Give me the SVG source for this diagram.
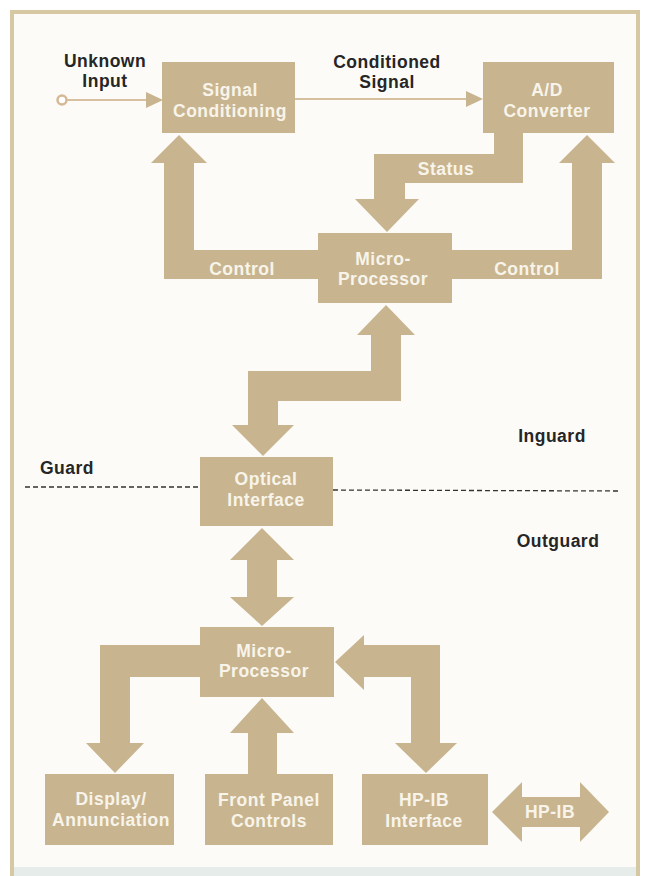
<svg xmlns="http://www.w3.org/2000/svg" width="648" height="876" viewBox="0 0 648 876">
<style>
.box{fill:#c8b58f}
.band{fill:#c8b58f}
.bt{font-family:"Liberation Sans",Arial,sans-serif;font-weight:bold;font-size:17.5px;fill:#f8f4ea;text-anchor:middle;letter-spacing:0.5px}
.lt{font-family:"Liberation Sans",Arial,sans-serif;font-weight:bold;font-size:17.5px;fill:#262626;text-anchor:middle;letter-spacing:0.5px}
.thin{stroke:#d6c0a0;stroke-width:2;fill:none}
.dash{stroke:#333333;stroke-width:1.3;stroke-dasharray:5 3;fill:none}
</style>
<rect x="0" y="0" width="648" height="876" fill="#ffffff"/>
<rect x="12" y="12" width="626" height="870" fill="#fcfbf7" stroke="#d6c8a2" stroke-width="4"/>
<rect x="14" y="867" width="622" height="9" fill="#e6ece9"/>

<g id="connectors">
  <circle cx="62" cy="100" r="4.5" fill="#ffffff" stroke="#d6b896" stroke-width="2.5"/>
  <line class="thin" x1="67" y1="100" x2="148" y2="100"/>
  <polygon class="band" points="146,92 163,100 146,108"/>
  <line class="thin" x1="295" y1="99" x2="468" y2="99"/>
  <polygon class="band" points="466,91 483,99 466,107"/>
  <polygon class="band" points="318,250 194,250 194,163 207,163 179,135 151,163 164,163 164,279 318,279"/>
  <polygon class="band" points="452,250 572,250 572,163 559,163 587,135 615,163 602,163 602,279 452,279"/>
  <polygon class="band" points="494,133 523,133 523,183 405,183 405,199 419,199 387,232 355,199 374,199 374,154 494,154"/>
  <polygon class="band" points="386,305 415,335 401,335 401,401 278,401 278,425 294,425 263,456 232,425 248,425 248,371 371,371 371,335 357,335"/>
  <polygon class="band" points="262,528 294,560 277,560 277,597 294,597 262,626 230,597 247,597 247,560 230,560"/>
  <polygon class="band" points="200,645 100,645 100,743 86,743 115,773 144,743 130,743 130,677 200,677"/>
  <polygon class="band" points="248,774 248,733 230,733 262,698 294,733 277,733 277,774"/>
  <polygon class="band" points="335,662 364,635 364,645 440,645 440,743 457,743 426,773 395,743 411,743 411,677 364,677 364,690"/>
  <polygon class="band" points="492,812 522,782 522,797 580,797 580,782 609,812 580,842 580,827 522,827 522,842"/>
  <line class="dash" x1="25" y1="487" x2="200" y2="487"/>
  <line class="dash" x1="333" y1="490" x2="619" y2="491"/>
  <text class="bt" x="446" y="175">Status</text>
  <text class="bt" x="242" y="275">Control</text>
  <text class="bt" x="527" y="275">Control</text>
  <text class="bt" x="550" y="818">HP-IB</text>
</g>

<g id="labels">
  <text class="lt" x="105" y="67">Unknown</text>
  <text class="lt" x="105" y="87">Input</text>
  <text class="lt" x="387" y="68">Conditioned</text>
  <text class="lt" x="387" y="88">Signal</text>
  <text class="lt" x="67" y="474">Guard</text>
  <text class="lt" x="552" y="442">Inguard</text>
  <text class="lt" x="558" y="547">Outguard</text>
</g>

<g id="signal-conditioning">
  <rect class="box" x="162" y="62" width="133" height="71"/>
  <text class="bt" x="230" y="96">Signal</text>
  <text class="bt" x="230" y="117">Conditioning</text>
</g>
<g id="ad-converter">
  <rect class="box" x="483" y="62" width="131" height="71"/>
  <text class="bt" x="547" y="96">A/D</text>
  <text class="bt" x="547" y="117">Converter</text>
</g>
<g id="microprocessor-inguard">
  <rect class="box" x="318" y="233" width="134" height="70"/>
  <text class="bt" x="383" y="265">Micro-</text>
  <text class="bt" x="383" y="285">Processor</text>
</g>
<g id="optical-interface">
  <rect class="box" x="200" y="457" width="133" height="69"/>
  <text class="bt" x="266" y="485">Optical</text>
  <text class="bt" x="266" y="506">Interface</text>
</g>
<g id="microprocessor-outguard">
  <rect class="box" x="200" y="627" width="134" height="70"/>
  <text class="bt" x="264" y="657">Micro-</text>
  <text class="bt" x="264" y="677">Processor</text>
</g>
<g id="display">
  <rect class="box" x="45" y="774" width="129" height="71"/>
  <text class="bt" x="111" y="805">Display/</text>
  <text class="bt" x="111" y="826">Annunciation</text>
</g>
<g id="front-panel">
  <rect class="box" x="205" y="774" width="128" height="71"/>
  <text class="bt" x="269" y="806">Front Panel</text>
  <text class="bt" x="269" y="827">Controls</text>
</g>
<g id="hpib-interface">
  <rect class="box" x="362" y="774" width="126" height="71"/>
  <text class="bt" x="424" y="806">HP-IB</text>
  <text class="bt" x="424" y="827">Interface</text>
</g>
</svg>
